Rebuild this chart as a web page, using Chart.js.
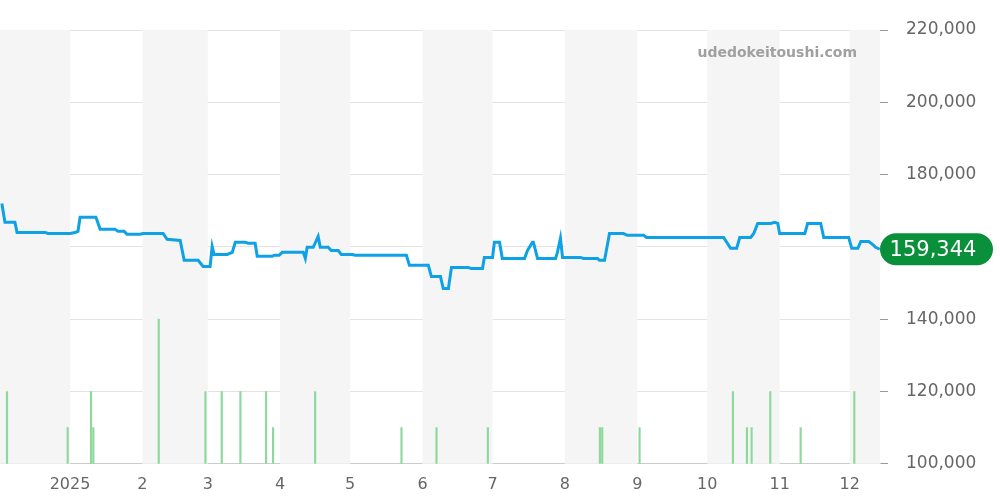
<!DOCTYPE html>
<html lang="en">
<head>
<meta charset="UTF-8">
<title>Price chart</title>
<script src="https://cdn.jsdelivr.net/npm/chart.js"></script>
<style>
  html, body { margin: 0; padding: 0; background: #fff; }
  #wrap { width: 1000px; height: 500px; }
</style>
</head>
<body>
<div id="wrap"><canvas id="chartCanvas" width="1000" height="500"></canvas></div>
<script>
// days counted from 2025-01-01
const priceDays = [-29.2,-27.9,-23.6,-22.7,-10.7,-9.4,0,2.1,3.4,4.3,11.1,12.9,19.3,20.6,23.2,24.4,30,31.3,39.9,41.6,47.2,48.9,54.9,57,60,60.9,61.7,67.3,69.5,70.8,75,76.3,79.3,80.2,86.6,87.5,89.6,90.9,99.9,100.8,101.6,104.2,106.3,107.2,110.6,111.9,114.9,116.2,120.9,122.2,144.1,145.4,153.5,154.8,158.7,159.9,162.1,163.4,170.7,171.9,176.7,177.5,181,181.8,184,185.2,194.7,196,198.1,198.5,200.3,208,208.8,210.1,211,218.7,220,226,226.8,229,231.1,237.1,238.8,245.7,247,280,283,285.6,286.9,291.6,292.9,294.6,300.2,301.9,303.2,304,314.8,316,321.6,322.9,333.6,334.9,337.5,338.8,342.2,344.3,345.1,346.9];
const priceValues = [172000,166800,166800,164000,164000,163700,163700,164000,164300,168200,168200,164900,164900,164300,164300,163500,163500,163700,163700,162100,161800,156300,156300,154600,154600,160100,157900,157900,158500,161300,161300,161000,161000,157400,157400,157700,157700,158500,158500,156800,159900,159900,162900,159900,159900,159000,159000,157900,157900,157700,157700,154900,154900,151800,151800,148500,148500,154300,154300,154000,154000,157100,157100,161300,161300,156800,156800,159000,161300,161300,156800,156800,158500,162400,157100,157100,156800,156800,156300,156300,163700,163700,163200,163200,162600,162600,159600,159600,162600,162600,163700,166500,166500,166800,166500,163700,163700,166500,166500,162600,162600,159600,159600,161500,161500,160400,159900,159344];
const volumeDays = [-27,-1,9,10,38,58,65,73,84,87,105,142,157,179,227,228,244,284,290,292,300,313,336];
const volumeCounts = [2,1,2,1,4,2,2,2,2,1,2,1,1,1,1,1,1,2,1,1,2,1,2];
const monthStarts = [-31,0,31,59,90,120,151,181,212,243,273,304,334,365];
const monthLabels = ['', '2025','2','3','4','5','6','7','8','9','10','11','12',''];
const yTicks = [100000,120000,140000,160000,180000,200000,220000];
const lastPrice = 159344;

const fmt = v => v.toLocaleString('en-US');

const bandsPlugin = {
  id: 'bands',
  beforeDatasetsDraw(chart) {
    const { ctx, chartArea: a, scales: { x } } = chart;
    ctx.save();
    ctx.fillStyle = '#f5f5f5';
    for (let i = 0; i < monthStarts.length - 1; i += 2) {
      const l = Math.max(a.left, x.getPixelForValue(monthStarts[i]));
      const r = Math.min(a.right, x.getPixelForValue(monthStarts[i + 1]));
      if (r > l) ctx.fillRect(l, a.top, r - l, a.bottom - a.top);
    }
    ctx.restore();
  }
};

const labelPlugin = {
  id: 'lastLabel',
  afterDraw(chart) {
    const { ctx, chartArea: a, scales: { y } } = chart;
    const py = y.getPixelForValue(lastPrice);
    ctx.save();
    ctx.fillStyle = '#0a8f3a';
    ctx.beginPath();
    ctx.roundRect(a.right, py - 16, 113, 32, 16);
    ctx.fill();
    ctx.fillStyle = '#fff';
    ctx.font = '21px "DejaVu Sans"';
    ctx.textAlign = 'center';
    ctx.textBaseline = 'middle';
    ctx.fillText(fmt(lastPrice), a.right + 53, py + 1);
    ctx.font = 'bold 14px "DejaVu Sans"';
    ctx.fillStyle = '#a0a0a0';
    ctx.textAlign = 'right';
    ctx.fillText('udedokeitoushi.com', 857, 53);
    ctx.restore();
  }
};

new Chart(document.getElementById('chartCanvas'), {
  data: {
    datasets: [
      {
        type: 'line',
        data: priceDays.map((d, i) => ({ x: d, y: priceValues[i] })),
        borderColor: '#0ea1e6',
        borderWidth: 3,
        pointRadius: 0,
        tension: 0,
        order: 1
      },
      {
        type: 'bar',
        data: volumeDays.map((d, i) => ({ x: d, y: [100000, 100000 + volumeCounts[i] * 10000] })),
        backgroundColor: '#8fd89c',
        barThickness: 1.5,
        order: 2
      }
    ]
  },
  options: {
    responsive: false,
    animation: false,
    layout: { padding: { top: 30, right: 0, left: 0, bottom: 3 } },
    plugins: { legend: { display: false }, tooltip: { enabled: false } },
    scales: {
      x: {
        type: 'linear',
        min: -30, max: 347,
        offset: false,
        grid: { display: false, drawTicks: true },
        border: { color: '#ccc' },
        afterBuildTicks(s) { s.ticks = monthStarts.filter(v => v >= -30 && v <= 347).map(v => ({ value: v })); },
        ticks: {
          autoSkip: false, maxRotation: 0,
          color: '#666', font: { size: 16, family: 'DejaVu Sans' },
          callback: v => monthLabels[monthStarts.indexOf(v)]
        }
      },
      y: {
        position: 'right',
        min: 100000, max: 220000,
        afterBuildTicks(s) { s.ticks = yTicks.map(v => ({ value: v })); },
        afterFit(s) { s.width = 120; },
        grid: { color: '#e3e3e3', tickLength: 8, tickColor: '#999' },
        border: { display: false },
        ticks: { color: '#666', font: { size: 17, family: 'DejaVu Sans' }, callback: v => fmt(v), padding: 18 }
      }
    }
  },
  plugins: [bandsPlugin, labelPlugin]
});
</script>
</body>
</html>
